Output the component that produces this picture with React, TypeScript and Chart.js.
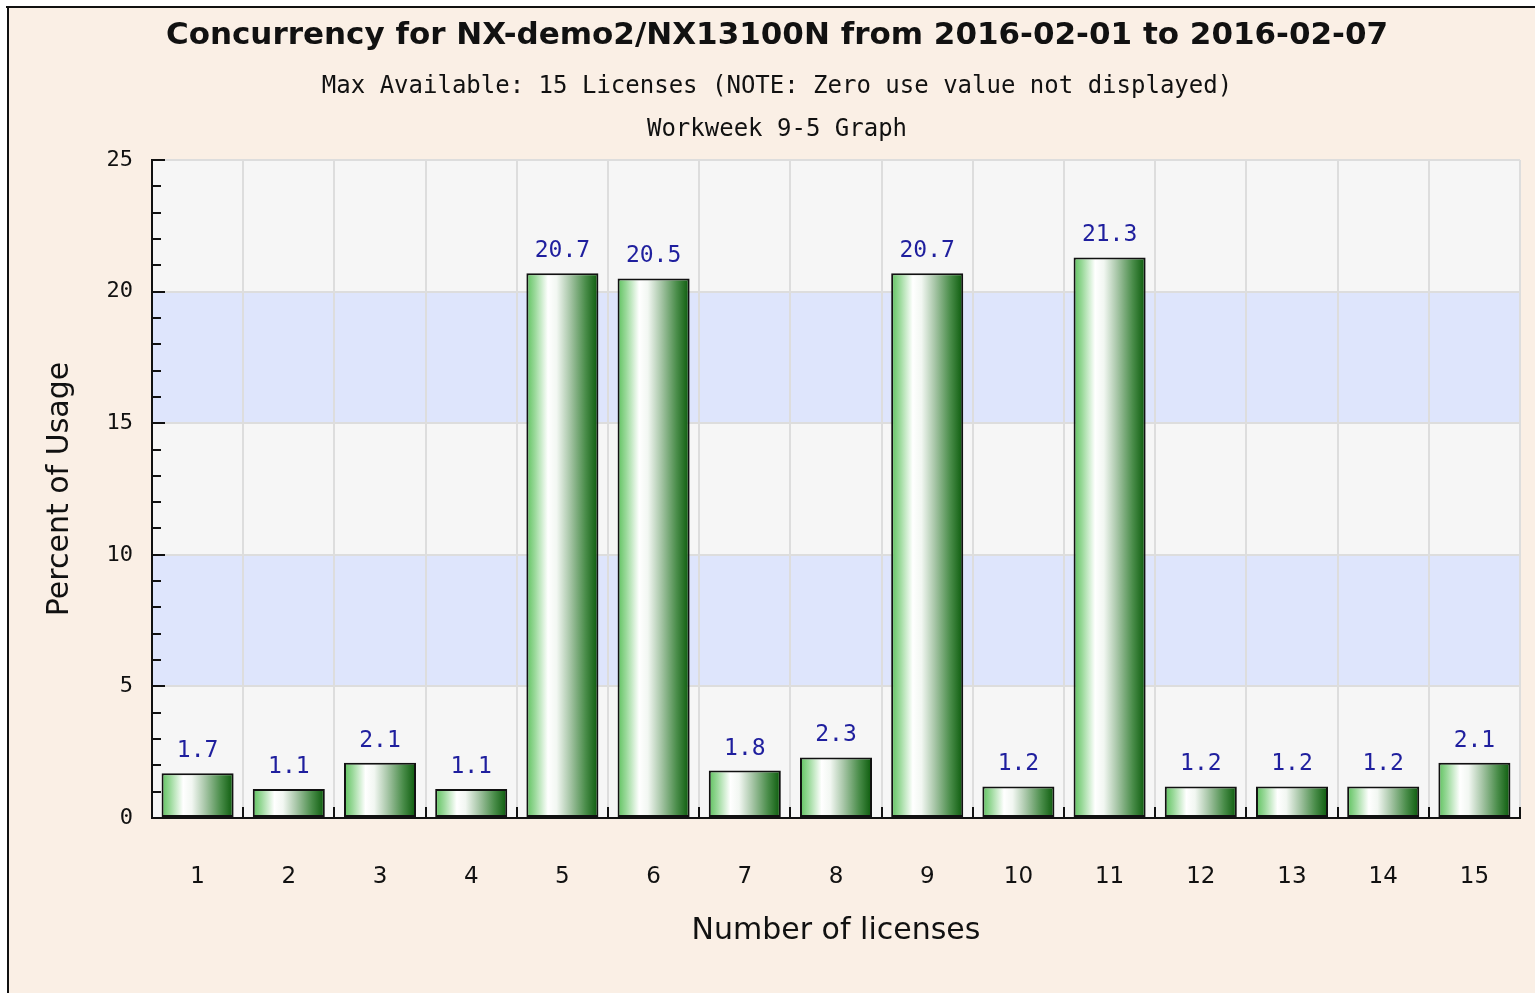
import React, { useEffect, useRef } from "react";
import { Chart, registerables } from "chart.js";

Chart.register(...registerables);

const categories = ["1", "2", "3", "4", "5", "6", "7", "8", "9", "10", "11", "12", "13", "14", "15"];
const usageValues = [1.7, 1.1, 2.1, 1.1, 20.7, 20.5, 1.8, 2.3, 20.7, 1.2, 21.3, 1.2, 1.2, 1.2, 2.1];
const titleText = "Concurrency for NX-demo2/NX13100N from 2016-02-01 to 2016-02-07";
const subtitleLines = ["Max Available: 15 Licenses (NOTE: Zero use value not displayed)", "Workweek 9-5 Graph"];
const yAxisTitle = "Percent of Usage";
const xAxisTitle = "Number of licenses";
const yMin = 0;
const yMax = 25;
const yStep = 5;

const W = 1535;
const H = 993;

const framePlugin = {
  id: "frame",
  beforeDraw(chart: any) {
    const ctx = chart.ctx;
    ctx.save();
    ctx.fillStyle = "#faefe5";
    ctx.fillRect(0, 0, chart.width, chart.height);
    ctx.fillStyle = "#ffffff";
    ctx.fillRect(0, 0, chart.width, 6);
    ctx.fillRect(0, 0, 7, chart.height);
    ctx.fillStyle = "#111111";
    ctx.fillRect(6, 6, chart.width - 6, 2);
    ctx.fillRect(7, 6, 2, chart.height - 6);
    const { left, right } = chart.chartArea;
    const y = chart.scales.y;
    for (let v = yMin; v < yMax; v += yStep) {
      const idx = Math.round((v - yMin) / yStep);
      ctx.fillStyle = idx % 2 === 0 ? "#f6f6f6" : "#dee5fc";
      const t = y.getPixelForValue(v + yStep);
      const b = y.getPixelForValue(v);
      ctx.fillRect(left, t, right - left, b - t);
    }
    ctx.restore();
  },
};

const ticksPlugin = {
  id: "innerTicks",
  afterDraw(chart: any) {
    const ctx = chart.ctx;
    const y = chart.scales.y;
    const x = chart.scales.x;
    const { left, bottom } = chart.chartArea;
    ctx.save();
    ctx.fillStyle = "#111111";
    for (let v = yMin; v <= yMax; v += 1) {
      const py = Math.round(y.getPixelForValue(v));
      const len = v % yStep === 0 ? 13 : 9;
      ctx.fillRect(left, py - 1, len, 2);
    }
    for (let i = 1; i <= categories.length; i++) {
      const px = Math.round((x.getPixelForValue(i - 1) + x.getPixelForValue(i)) / 2);
      const edge = i === categories.length ? x.right : px;
      ctx.fillRect(Math.round(edge) - 1, bottom - 11, 2, 11);
    }
    ctx.restore();
  },
};

const labelsPlugin = {
  id: "valueLabels",
  afterDatasetsDraw(chart: any) {
    const ctx = chart.ctx;
    const meta = chart.getDatasetMeta(0);
    ctx.save();
    ctx.fillStyle = "#1f1f9e";
    ctx.font = "23px 'DejaVu Sans Mono'";
    ctx.textAlign = "center";
    ctx.textBaseline = "middle";
    meta.data.forEach((el: any, i: number) => {
      ctx.fillText(usageValues[i].toFixed(1), el.x, el.y - 22);
    });
    ctx.restore();
  },
};

export default function App() {
  const ref = useRef<HTMLCanvasElement>(null);
  useEffect(() => {
    document.body.style.margin = "0";
    const chart = new Chart(ref.current as HTMLCanvasElement, {
      type: "bar",
      data: {
        labels: categories,
        datasets: [
          {
            data: usageValues,
            backgroundColor: (context: any) => {
              const c = context.chart;
              const xs = c.scales.x;
              if (!xs || !c.chartArea) return "#4a9a4a";
              const cw = xs.width / categories.length;
              const w = cw * 0.79;
              const cx = xs.getPixelForValue(context.dataIndex);
              const g = c.ctx.createLinearGradient(cx - w / 2, 0, cx + w / 2, 0);
              g.addColorStop(0, "#5ec25e");
              g.addColorStop(0.12, "#9ad99a");
              g.addColorStop(0.3, "#ffffff");
              g.addColorStop(0.42, "#f2f7f2");
              g.addColorStop(0.6, "#a9c7a9");
              g.addColorStop(0.82, "#4a8d4a");
              g.addColorStop(1, "#0a5a0a");
              return g;
            },
            borderColor: "#111111",
            borderWidth: 2,
            borderSkipped: false,
            categoryPercentage: 1,
            barPercentage: 0.79,
          },
        ],
      },
      options: {
        animation: false,
        responsive: true,
        maintainAspectRatio: false,
        layout: { padding: { left: 34, right: 15, top: 10, bottom: 0 } },
        plugins: {
          legend: { display: false },
          tooltip: { enabled: false },
          title: {
            display: true,
            text: titleText,
            color: "#111111",
            font: { family: "'DejaVu Sans'", size: 31, weight: "bold", lineHeight: 1.2 },
            padding: { top: 7.4, bottom: 0 },
          },
          subtitle: {
            display: true,
            text: subtitleLines,
            color: "#111111",
            font: { family: "'DejaVu Sans Mono'", size: 24, lineHeight: 43 / 24 },
            padding: { top: 10.9, bottom: 8.5 },
          },
        },
        scales: {
          x: {
            grid: { color: "#dddddd", lineWidth: 2, offset: true, drawTicks: false },
            border: { color: "#111111", width: 2 },
            ticks: { color: "#111111", font: { family: "'DejaVu Sans'", size: 23 }, padding: 45 },
            title: {
              display: true,
              text: xAxisTitle,
              color: "#111111",
              font: { family: "'DejaVu Sans'", size: 30 },
              padding: { top: 0, bottom: 44 },
            },
            afterFit: (s: any) => {
              s.height = H - 818;
            },
          },
          y: {
            min: yMin,
            max: yMax,
            grid: { color: "#dddddd", lineWidth: 2, drawTicks: false },
            border: { color: "#111111", width: 2 },
            ticks: { stepSize: yStep, color: "#111111", font: { family: "'DejaVu Sans Mono'", size: 22 }, padding: 19 },
            title: {
              display: true,
              text: yAxisTitle,
              color: "#111111",
              font: { family: "'DejaVu Sans'", size: 30 },
              padding: { top: 8, bottom: 0 },
            },
            afterFit: (s: any) => {
              s.width = 152 - 34;
            },
          },
        },
      },
      plugins: [framePlugin, ticksPlugin, labelsPlugin],
    } as any);
    return () => chart.destroy();
  }, []);
  return (
    <div style={{ position: "fixed", left: 0, top: 0, width: W, height: H }}>
      <canvas ref={ref} />
    </div>
  );
}
